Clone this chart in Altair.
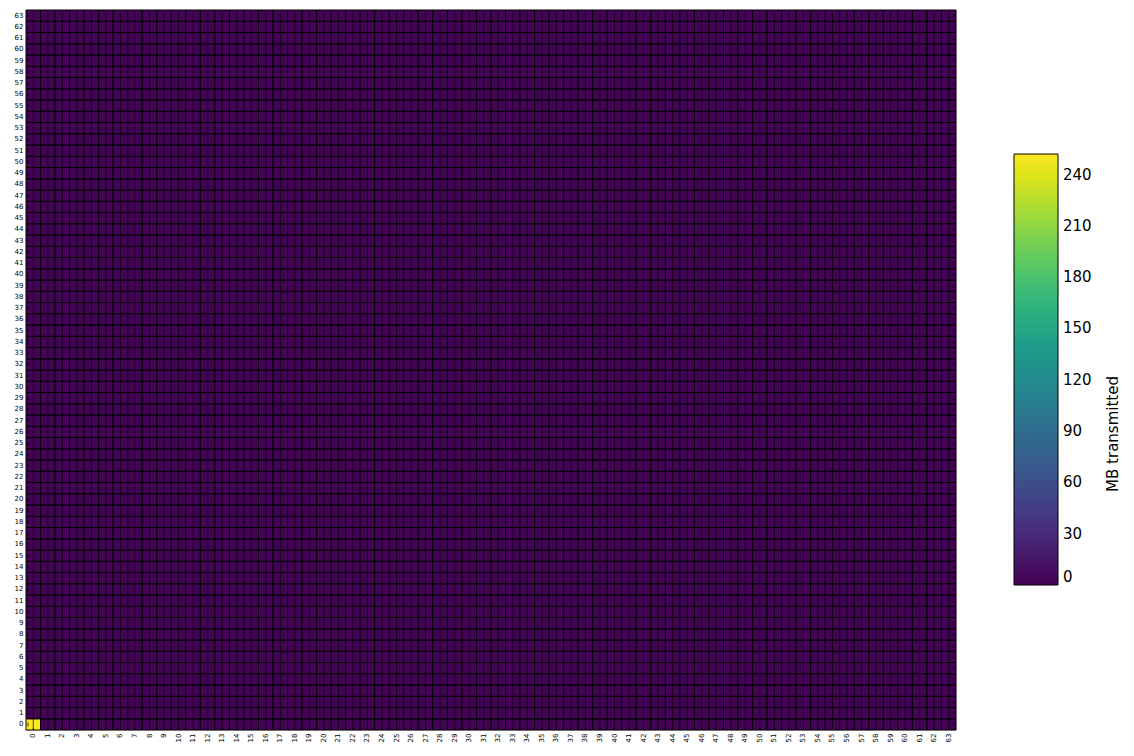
import altair as alt
import pandas as pd

# ---- data ----
senders = list(range(64))          # x: source rank
receivers = list(range(64))        # y: destination rank
background_mb = 1                  # nearly-empty cells
peak_cell = (0, 0)
peak_mb = 252
legend_ticks = [0, 30, 60, 90, 120, 150, 180, 210, 240]
color_max = 252
colorbar_title = "MB transmitted"

rows = []
for s in senders:
    for r in receivers:
        v = peak_mb if (s, r) == peak_cell else background_mb
        rows.append({"src": s, "dst": r, "mb": v})
df = pd.DataFrame(rows)
ticks_df = pd.DataFrame({"i": senders})
title_df = pd.DataFrame({"t": [colorbar_title]})

W, H = 930, 720
FONT = "DejaVu Sans"

xsc = alt.Scale(domain=senders, paddingInner=0, paddingOuter=0)
ysc = alt.Scale(domain=list(reversed(receivers)), paddingInner=0, paddingOuter=0)

heat = alt.Chart(df).mark_rect(stroke="black", strokeWidth=1).encode(
    x=alt.X("src:O", scale=xsc, title=None,
            axis=alt.Axis(labelAngle=270, labelFontSize=7, labelFont=FONT,
                          labelColor="black", ticks=False, domain=False,
                          labelPadding=3, labelAlign="right", labelBaseline="middle")),
    y=alt.Y("dst:O", scale=ysc, title=None,
            axis=alt.Axis(labelFontSize=7, labelFont=FONT, labelColor="black",
                          ticks=False, domain=False, labelPadding=3)),
    color=alt.Color("mb:Q",
                    scale=alt.Scale(scheme="viridis", domain=[0, color_max]),
                    legend=alt.Legend(orient="none", legendX=988, legendY=144,
                                      direction="vertical", gradientLength=431,
                                      gradientThickness=44, gradientStrokeColor="black",
                                      gradientStrokeWidth=1, values=legend_ticks,
                                      labelFontSize=15, labelFont=FONT,
                                      labelColor="black", labelOffset=5,
                                      labelOverlap=False, title=None)),
)

tick_len = 4
bottom_ticks = alt.Chart(ticks_df).mark_tick(color="black", thickness=1, size=tick_len).encode(
    x=alt.X("i:O", scale=xsc), y=alt.value(H - tick_len / 2))
top_ticks = alt.Chart(ticks_df).mark_tick(color="black", thickness=1, size=tick_len).encode(
    x=alt.X("i:O", scale=xsc), y=alt.value(tick_len / 2))
left_ticks = alt.Chart(ticks_df).mark_tick(color="black", thickness=1, size=tick_len).encode(
    y=alt.Y("i:O", scale=ysc), x=alt.value(tick_len / 2))
right_ticks = alt.Chart(ticks_df).mark_tick(color="black", thickness=1, size=tick_len).encode(
    y=alt.Y("i:O", scale=ysc), x=alt.value(W - tick_len / 2))

title_txt = alt.Chart(title_df).mark_text(angle=270, fontSize=15, font=FONT,
                                          color="black", align="center",
                                          baseline="middle").encode(
    text="t:N", x=alt.value(1087), y=alt.value(424))

chart = alt.layer(heat, bottom_ticks, top_ticks, left_ticks, right_ticks, title_txt).resolve_scale(
    x="shared", y="shared"
).properties(
    width=W, height=H,
    autosize=alt.AutoSizeParams(type="none"),
    padding={"left": 18, "top": 2, "right": 170, "bottom": 18},
).configure_view(stroke="black", strokeWidth=1).configure(background="white")

chart.save("out.html", embed_options={"renderer": "svg", "actions": False})
